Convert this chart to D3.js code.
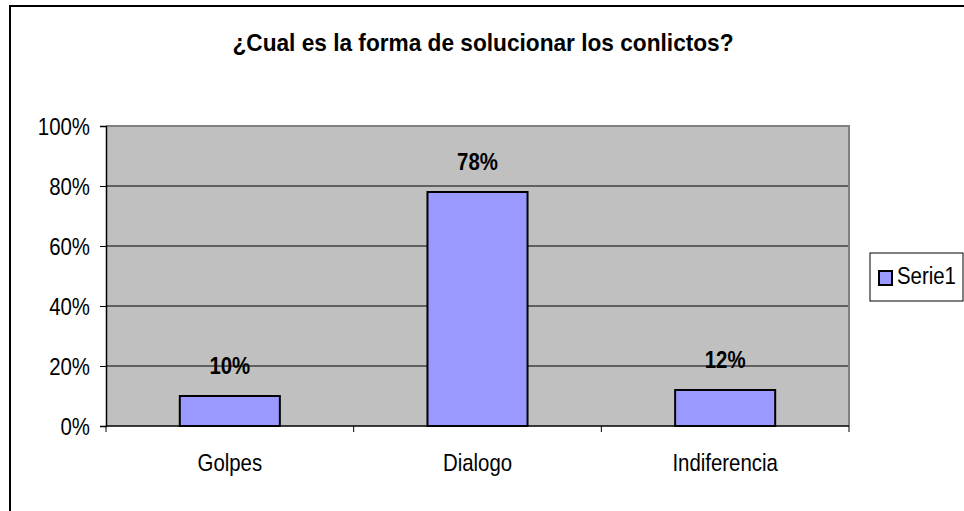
<!DOCTYPE html>
<html>
<head>
<meta charset="utf-8">
<script src="https://cdn.jsdelivr.net/npm/d3@7"></script>
<style>
  body { margin: 0; background: #fff; }
  text { font-family: "Liberation Sans", Arial, sans-serif; fill: #000; }
</style>
</head>
<body>
<div class="chart"></div>
<script>
// chart data
const categories = ["Golpes", "Dialogo", "Indiferencia"];
const values = [0.10, 0.78, 0.12];
const labels = ["10%", "78%", "12%"];
const yTicks = [0, 0.2, 0.4, 0.6, 0.8, 1.0];
const seriesName = "Serie1";
const title = "¿Cual es la forma de solucionar los conlictos?";

var W = 964, H = 511;
var plot = {left: 106, right: 849, top: 126, bottom: 426};
var squeeze = 0.85; // the picture's text is horizontally narrow

var svg = d3.select(".chart").append("svg")
    .attr("width", W)
    .attr("height", H);

// outer frame (runs off the right and bottom of the picture)
svg.append("rect")
    .attr("x", 10).attr("y", 6)
    .attr("width", 1000).attr("height", 600)
    .attr("fill", "#fff")
    .attr("stroke", "#000")
    .attr("stroke-width", 2);

const xScale = d3.scaleBand()
    .domain(categories)
    .range([plot.left, plot.right])
    .paddingInner(0.596)
    .paddingOuter(0.298);

const yScale = d3.scaleLinear()
    .domain([0, 1])
    .range([plot.bottom, plot.top]);

// plot background
svg.append("rect")
    .attr("x", plot.left).attr("y", plot.top)
    .attr("width", plot.right - plot.left)
    .attr("height", plot.bottom - plot.top)
    .attr("fill", "#c0c0c0");

// grid lines
svg.selectAll(".grid")
    .data(yTicks.filter(d => d > 0 && d < 1))
    .enter().append("line")
    .attr("class", "grid")
    .attr("x1", plot.left).attr("x2", plot.right)
    .attr("y1", d => yScale(d)).attr("y2", d => yScale(d))
    .attr("stroke", "#000")
    .attr("stroke-width", 1);

// top and right border of plot area (gray)
svg.append("path")
    .attr("d", `M${plot.left},${plot.top}H${plot.right}V${plot.bottom}`)
    .attr("fill", "none")
    .attr("stroke", "#808080")
    .attr("stroke-width", 2);

// bars
svg.selectAll(".bar")
    .data(values)
    .enter().append("rect")
    .attr("class", "bar")
    .attr("x", (d, i) => xScale(categories[i]))
    .attr("y", d => yScale(d))
    .attr("width", xScale.bandwidth())
    .attr("height", d => yScale(0) - yScale(d))
    .attr("fill", "#9999ff")
    .attr("stroke", "#000")
    .attr("stroke-width", 2);

// data labels
svg.selectAll(".dlabel")
    .data(values)
    .enter().append("text")
    .attr("class", "dlabel squeeze")
    .attr("x", (d, i) => xScale(categories[i]) + xScale.bandwidth() / 2)
    .attr("y", d => yScale(d) - 22)
    .attr("text-anchor", "middle")
    .attr("font-size", 24)
    .attr("font-weight", "bold")
    .text((d, i) => labels[i]);

// y axis
const yAxis = d3.axisLeft(yScale)
    .tickValues(yTicks)
    .tickFormat(d3.format(".0%"))
    .tickSize(6)
    .tickPadding(10);

var gy = svg.append("g")
    .attr("class", "axis y-axis")
    .attr("transform", `translate(${plot.left},0)`)
    .call(yAxis);
gy.select(".domain").attr("stroke", "#000").attr("stroke-width", 1.5);
gy.selectAll("line").attr("stroke", "#000");
gy.selectAll("text")
    .attr("class", "squeeze")
    .attr("font-size", 24)
    .attr("font-family", null)
    .attr("dy", "0.36em");

// x axis: labels under each bar, ticks at category boundaries
svg.append("line")
    .attr("x1", plot.left).attr("x2", plot.right)
    .attr("y1", plot.bottom).attr("y2", plot.bottom)
    .attr("stroke", "#000")
    .attr("stroke-width", 1.5);

svg.selectAll(".xtick")
    .data(d3.range(categories.length + 1))
    .enter().append("line")
    .attr("class", "xtick")
    .attr("x1", i => plot.left + i * xScale.step())
    .attr("x2", i => plot.left + i * xScale.step())
    .attr("y1", plot.bottom).attr("y2", plot.bottom + 6)
    .attr("stroke", "#000");

svg.selectAll(".xlabel")
    .data(categories)
    .enter().append("text")
    .attr("class", "xlabel squeeze")
    .attr("x", d => xScale(d) + xScale.bandwidth() / 2)
    .attr("y", 471)
    .attr("text-anchor", "middle")
    .attr("font-size", 24)
    .text(d => d);

// title
svg.append("text")
    .attr("class", "squeeze")
    .attr("data-sx", 0.945)
    .attr("x", 483)
    .attr("y", 51)
    .attr("text-anchor", "middle")
    .attr("font-size", 24)
    .attr("font-weight", "bold")
    .text(title);

// legend
var legend = svg.append("g").attr("class", "legend");
legend.append("rect")
    .attr("x", 870).attr("y", 253)
    .attr("width", 93).attr("height", 48)
    .attr("fill", "#fff")
    .attr("stroke", "#000")
    .attr("stroke-width", 1);
legend.append("rect")
    .attr("x", 879).attr("y", 271)
    .attr("width", 13).attr("height", 14)
    .attr("fill", "#9999ff")
    .attr("stroke", "#000")
    .attr("stroke-width", 2);
legend.append("text")
    .attr("class", "squeeze")
    .attr("x", 897).attr("y", 284)
    .attr("font-size", 24)
    .text(seriesName);

// narrow the text like in the picture (scale about its own anchor point)
svg.selectAll(".squeeze").each(function() {
    var t = d3.select(this);
    var x = +t.attr("x") || 0, y = +t.attr("y") || 0;
    var sx = +t.attr("data-sx") || squeeze;
    t.attr("x", 0).attr("y", 0)
        .attr("transform", `translate(${x},${y}) scale(${sx},1)`);
});
</script>
</body>
</html>
